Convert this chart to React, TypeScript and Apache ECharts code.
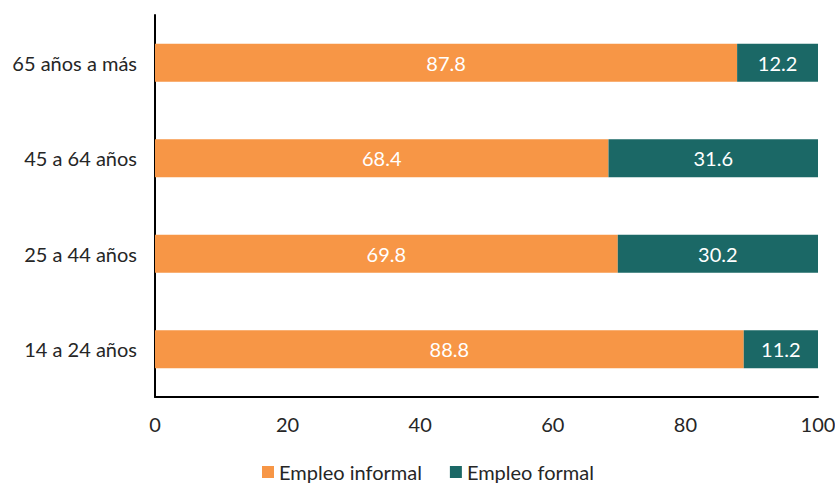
import React, { useEffect, useRef } from "react";
import * as echarts from "echarts";

const categories = ["14 a 24 años", "25 a 44 años", "45 a 64 años", "65 años a más"];
const informal = [88.8, 69.8, 68.4, 87.8];
const formal = [11.2, 30.2, 31.6, 12.2];
const seriesNames = ["Empleo informal", "Empleo formal"];

export default function App() {
  const ref = useRef<HTMLDivElement>(null);
  useEffect(() => {
    const chart = echarts.init(ref.current!, null, { renderer: "svg" });
    const font = "Lato";
    const fs = 20;
    chart.setOption({
      animation: false,
      textStyle: { fontFamily: font },
      legend: {
        top: 462,
        left: 262,
        padding: 0,
        itemWidth: 12,
        itemHeight: 12,
        itemGap: 28,
        icon: "rect",
        textStyle: { fontSize: fs, lineHeight: 20, color: "#262626", fontFamily: font },
        data: seriesNames,
      },
      grid: { left: 155, right: 17, top: 15, bottom: 86, containLabel: false, outerBoundsMode: "none" },
      xAxis: {
        type: "value",
        min: 0,
        max: 100,
        interval: 20,
        splitLine: { show: false },
        axisLine: { show: true, lineStyle: { color: "#000", width: 2 } },
        axisTick: { show: false },
        axisLabel: { fontSize: fs, color: "#262626", margin: 17, fontFamily: font },
      },
      yAxis: {
        type: "category",
        data: categories,
        axisLine: { show: true, onZero: false, lineStyle: { color: "#000", width: 2 } },
        axisTick: { show: false },
        axisLabel: { fontSize: fs, color: "#262626", margin: 18, fontFamily: font },
      },
      series: [
        {
          name: seriesNames[0],
          type: "bar",
          stack: "a",
          data: informal,
          barWidth: 38,
          itemStyle: { color: "#F79646" },
          label: { show: true, position: "inside", color: "#fff", fontSize: fs, fontFamily: font, formatter: (p: any) => p.value.toFixed(1) },
        },
        {
          name: seriesNames[1],
          type: "bar",
          stack: "a",
          data: formal,
          barWidth: 38,
          itemStyle: { color: "#1B6866" },
          label: { show: true, position: "inside", color: "#fff", fontSize: fs, fontFamily: font, formatter: (p: any) => p.value.toFixed(1) },
        },
      ],
    });
    return () => chart.dispose();
  }, []);
  return <div ref={ref} style={{ position: "absolute", left: 0, top: 0, width: 835, height: 483 }} />;
}
